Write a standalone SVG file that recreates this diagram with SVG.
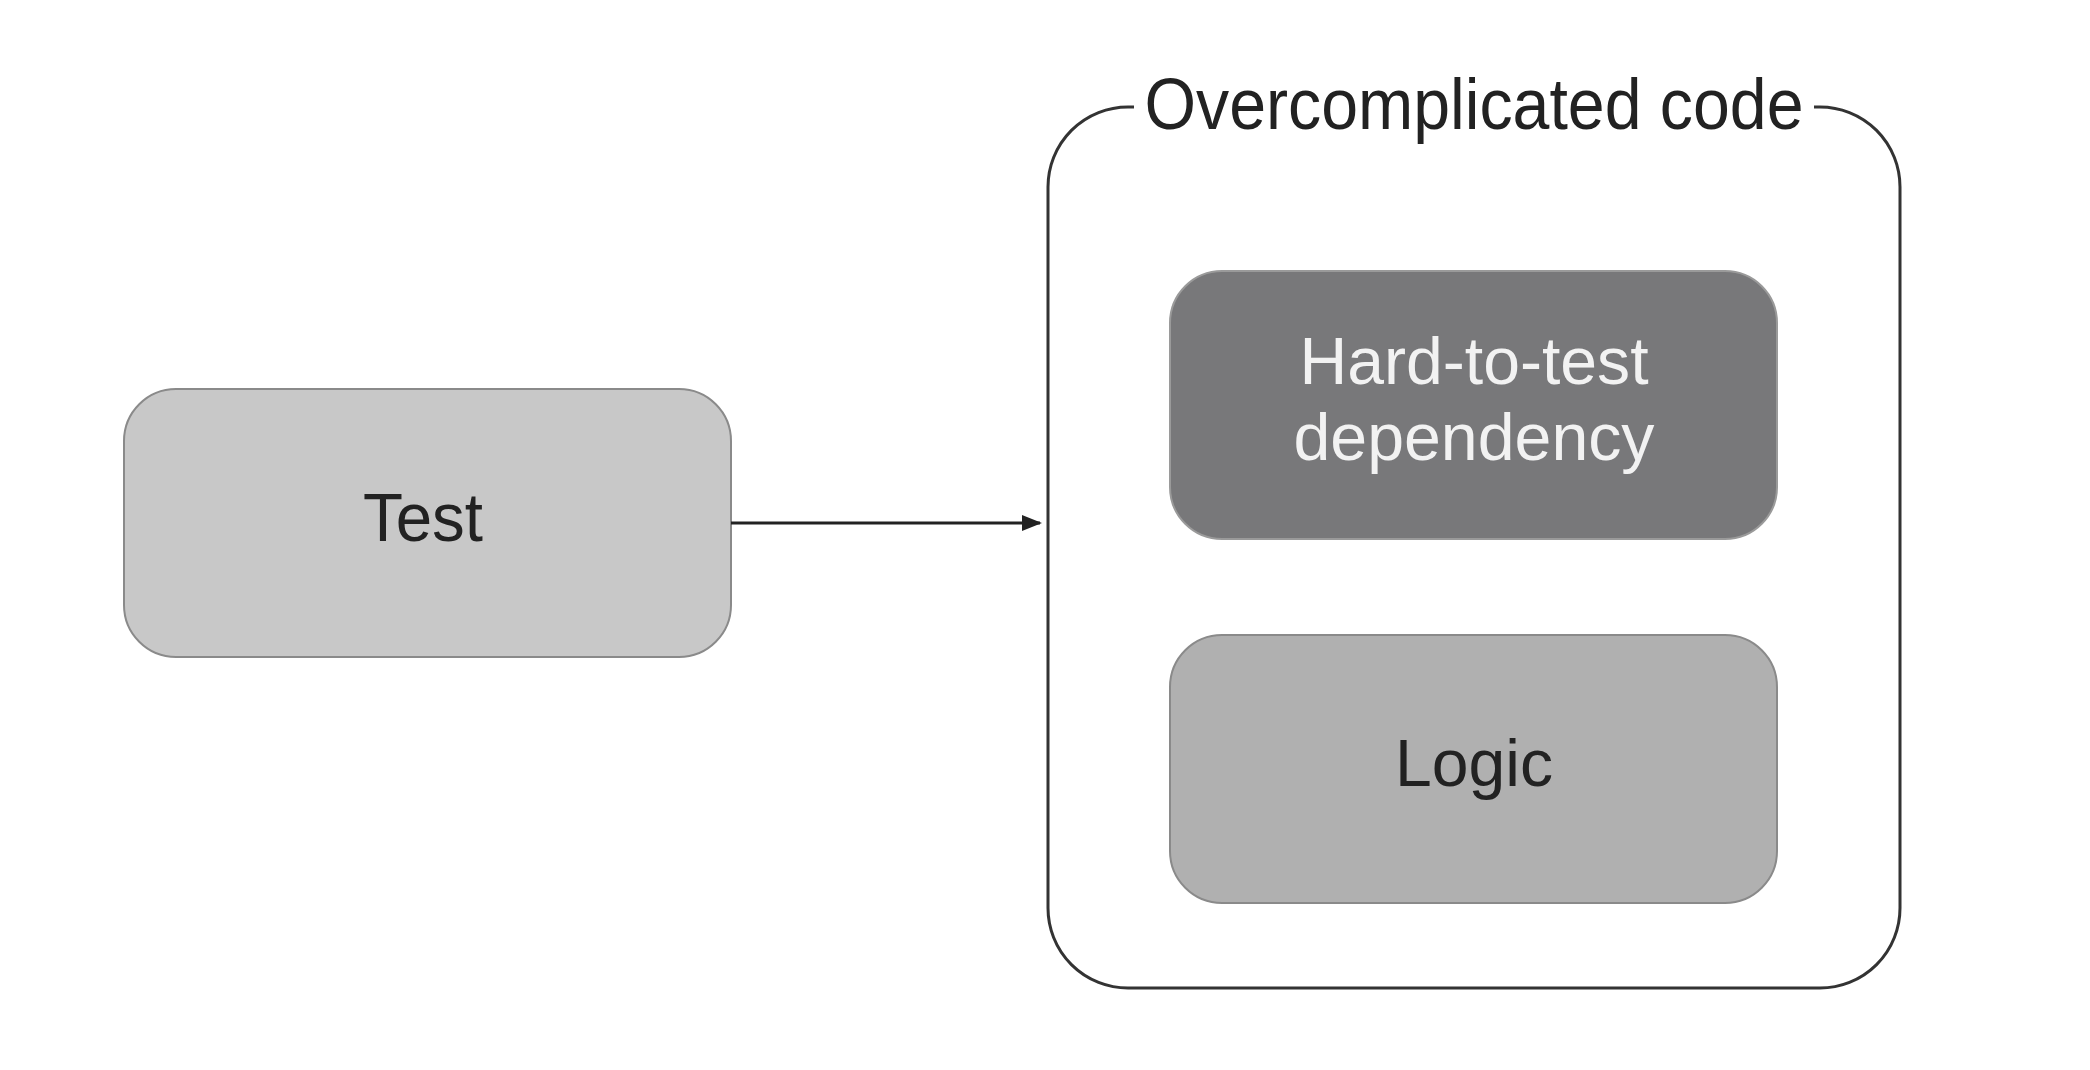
<svg xmlns="http://www.w3.org/2000/svg" width="2090" height="1070" viewBox="0 0 2090 1070">
<style>
  .lbl{font-family:"Liberation Sans",Arial,sans-serif;text-anchor:middle;}
  .dark{fill:#222222;}
  .light{fill:#f2f2f2;}
  .box{stroke-width:2;}
</style>
<defs>
  <marker id="arr" markerWidth="20" markerHeight="20" refX="18" refY="10" orient="auto" markerUnits="userSpaceOnUse">
    <path d="M0,2 L20,10 L0,18 Z" fill="#222222"/>
  </marker>
</defs>
<rect width="2090" height="1070" fill="#ffffff"/>

<g id="container">
  <rect x="1048" y="107" width="852" height="881" rx="80" ry="80" fill="#ffffff" stroke="#333333" stroke-width="3"/>
  <rect x="1134" y="80" width="680" height="50" fill="#ffffff"/>
  <text class="lbl dark" x="1474" y="129" font-size="72" textLength="659" lengthAdjust="spacingAndGlyphs">Overcomplicated code</text>
</g>

<g id="test">
  <rect class="box" x="124" y="389" width="607" height="268" rx="52" ry="52" fill="#c8c8c8" stroke="#8a8a8a"/>
  <text class="lbl dark" x="423" y="541" font-size="68" textLength="120" lengthAdjust="spacingAndGlyphs">Test</text>
</g>

<g id="hard">
  <rect class="box" x="1170" y="271" width="607" height="268" rx="52" ry="52" fill="#78787a" stroke="#9a9a9a"/>
  <text class="lbl light" x="1474" y="384" font-size="66" textLength="349" lengthAdjust="spacingAndGlyphs">Hard-to-test</text>
  <text class="lbl light" x="1474" y="460" font-size="66" textLength="361" lengthAdjust="spacingAndGlyphs">dependency</text>
</g>

<g id="logic">
  <rect class="box" x="1170" y="635" width="607" height="268" rx="52" ry="52" fill="#b0b0b0" stroke="#8a8a8a"/>
  <text class="lbl dark" x="1474" y="786" font-size="66" textLength="158" lengthAdjust="spacingAndGlyphs">Logic</text>
</g>

<g id="connectors">
  <line x1="731" y1="523" x2="1040" y2="523" stroke="#222222" stroke-width="3" marker-end="url(#arr)"/>
</g>
</svg>
